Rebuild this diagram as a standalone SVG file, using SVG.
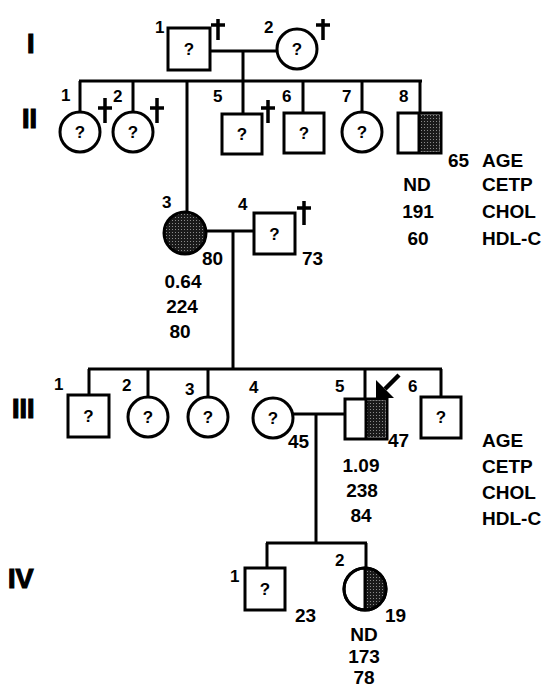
<svg xmlns="http://www.w3.org/2000/svg" width="546" height="690" viewBox="0 0 546 690">
<style>
.s{fill:#fff;stroke:#000;stroke-width:3}
.sh{fill:url(#dots);stroke:none}
.ln{fill:none;stroke:#000;stroke-width:3}
.cr{fill:none;stroke:#000;stroke-width:3.5}
.q{font-family:"Liberation Sans",Arial,sans-serif;font-weight:bold;font-size:17px;text-anchor:middle}
.lbl{font-family:"Liberation Sans",Arial,sans-serif;font-weight:bold;font-size:17px}
.d{font-family:"Liberation Sans",Arial,sans-serif;font-weight:bold;font-size:19px}
.dc{font-family:"Liberation Sans",Arial,sans-serif;font-weight:bold;font-size:19px;text-anchor:middle}
.gen{font-family:"Liberation Sans",Arial,sans-serif;font-weight:bold;font-size:27px;stroke:#000;stroke-width:1.2}
</style>
<defs>
<pattern id="dots" width="3" height="3" patternUnits="userSpaceOnUse">
<rect width="3" height="3" fill="#1a1a1a"/>
<rect x="1" y="1" width="1" height="1" fill="#8a8a8a"/>
</pattern>
</defs>
<rect width="546" height="690" fill="#fff"/>

<g id="generation-labels">
<text class="gen" x="27" y="53">I</text>
<text class="gen" x="22" y="128">II</text>
<text class="gen" x="12" y="418">III</text>
<text class="gen" x="8" y="588">IV</text>
</g>

<g id="connectors">
<path class="ln" d="M210 51 H277 M243 51 V81 M79 81 H422 M80 81 V112 M133 81 V112 M187 81 V212 M243 81 V114 M303 81 V113 M362 81 V112 M420 81 V113"/>
<path class="ln" d="M206 231 H254 M233 231 V369"/>
<path class="ln" d="M88 369 H442 M89 369 V395 M148 369 V397 M208 369 V397 M365 369 V399 M441 369 V397"/>
<path class="ln" d="M293 414 H345 M316 414 V543"/>
<path class="ln" d="M266 543 H367 M267 543 V568 M366 543 V568"/>
</g>

<g id="I-1">
<rect class="s" x="168" y="28" width="42" height="42"/>
<text class="q" x="189" y="55">?</text>
<text class="lbl" x="155" y="33">1</text>
<path class="cr" d="M218 19 V40 M211 25 H225"/>
</g>
<g id="I-2">
<circle class="s" cx="297" cy="49" r="20"/>
<text class="q" x="297" y="55">?</text>
<text class="lbl" x="264" y="33">2</text>
<path class="cr" d="M323 19 V40 M316 25 H330"/>
</g>

<g id="II-1">
<circle class="s" cx="80" cy="132" r="20"/>
<text class="q" x="80" y="138">?</text>
<text class="lbl" x="61" y="101">1</text>
<path class="cr" d="M105 98 V123 M98 108 H112"/>
</g>
<g id="II-2">
<circle class="s" cx="133" cy="132" r="20"/>
<text class="q" x="133" y="138">?</text>
<text class="lbl" x="113" y="102">2</text>
<path class="cr" d="M157 98 V123 M150 108 H164"/>
</g>
<g id="II-5">
<rect class="s" x="222" y="114" width="40" height="40"/>
<text class="q" x="242" y="140">?</text>
<text class="lbl" x="213" y="102">5</text>
<path class="cr" d="M268 100 V123 M261 108 H275"/>
</g>
<g id="II-6">
<rect class="s" x="284" y="113" width="40" height="40"/>
<text class="q" x="304" y="139">?</text>
<text class="lbl" x="282" y="102">6</text>
</g>
<g id="II-7">
<circle class="s" cx="362" cy="132" r="20"/>
<text class="q" x="362" y="138">?</text>
<text class="lbl" x="342" y="102">7</text>
</g>
<g id="II-8">
<rect class="s" x="398" y="113" width="43" height="40"/>
<rect class="sh" x="419" y="114.5" width="20.5" height="37"/>
<path class="ln" d="M419 113 V153"/>
<text class="lbl" x="399" y="102">8</text>
<text class="d" x="448" y="167">65</text>
<text class="dc" x="417" y="191">ND</text>
<text class="dc" x="418" y="218">191</text>
<text class="dc" x="418" y="245">60</text>
</g>
<g id="legend-II">
<text class="d" x="482" y="167">AGE</text>
<text class="d" x="482" y="191">CETP</text>
<text class="d" x="482" y="218">CHOL</text>
<text class="d" x="482" y="245">HDL-C</text>
</g>

<g id="II-3">
<circle cx="185" cy="233" r="21" fill="url(#dots)" stroke="#000" stroke-width="3"/>
<text class="lbl" x="162" y="208">3</text>
<text class="d" x="202" y="265">80</text>
<text class="dc" x="183" y="288">0.64</text>
<text class="dc" x="182" y="313">224</text>
<text class="dc" x="180" y="338">80</text>
</g>
<g id="II-4">
<rect class="s" x="254" y="213" width="41" height="41"/>
<text class="q" x="274.500" y="240">?</text>
<text class="lbl" x="238" y="210">4</text>
<path class="cr" d="M304 201 V225 M297 208 H311"/>
<text class="d" x="302" y="265">73</text>
</g>

<g id="III-1">
<rect class="s" x="68" y="395" width="41" height="42"/>
<text class="q" x="88.500" y="422">?</text>
<text class="lbl" x="54" y="390">1</text>
</g>
<g id="III-2">
<circle class="s" cx="148" cy="417" r="20"/>
<text class="q" x="148" y="423">?</text>
<text class="lbl" x="122" y="391">2</text>
</g>
<g id="III-3">
<circle class="s" cx="208" cy="417" r="20"/>
<text class="q" x="208" y="423">?</text>
<text class="lbl" x="185" y="395">3</text>
</g>
<g id="III-4">
<circle class="s" cx="273" cy="418" r="20"/>
<text class="q" x="273" y="424">?</text>
<text class="lbl" x="249" y="393">4</text>
<text class="d" x="288" y="448">45</text>
</g>
<g id="III-5">
<rect class="s" x="345" y="399" width="42" height="40"/>
<rect class="sh" x="366" y="400.5" width="19.5" height="37"/>
<path class="ln" d="M366 399 V439"/>
<text class="lbl" x="335" y="392">5</text>
<path d="M399 375 L385 389" stroke="#000" stroke-width="4.5" fill="none"/>
<polygon points="376,380 376,398 394,398" fill="#000"/>
<text class="d" x="388" y="447">47</text>
<text class="dc" x="361" y="472">1.09</text>
<text class="dc" x="362" y="497">238</text>
<text class="dc" x="361" y="522">84</text>
</g>
<g id="III-6">
<rect class="s" x="421" y="397" width="40" height="41"/>
<text class="q" x="441" y="423">?</text>
<text class="lbl" x="408" y="392">6</text>
</g>
<g id="legend-III">
<text class="d" x="482" y="447">AGE</text>
<text class="d" x="482" y="473">CETP</text>
<text class="d" x="482" y="499">CHOL</text>
<text class="d" x="482" y="525">HDL-C</text>
</g>

<g id="IV-1">
<rect class="s" x="245" y="568" width="40" height="42"/>
<text class="q" x="265" y="595">?</text>
<text class="lbl" x="230" y="582">1</text>
<text class="d" x="295" y="622">23</text>
</g>
<g id="IV-2">
<circle class="s" cx="365" cy="589" r="21"/>
<path class="sh" d="M365 568 A21 21 0 0 1 365 610 Z"/>
<circle cx="365" cy="589" r="21" fill="none" stroke="#000" stroke-width="3"/>
<path class="ln" d="M365 568 V610"/>
<text class="lbl" x="335" y="566">2</text>
<text class="d" x="385" y="622">19</text>
<text class="dc" x="364" y="641">ND</text>
<text class="dc" x="364" y="663">173</text>
<text class="dc" x="364" y="684">78</text>
</g>
</svg>
